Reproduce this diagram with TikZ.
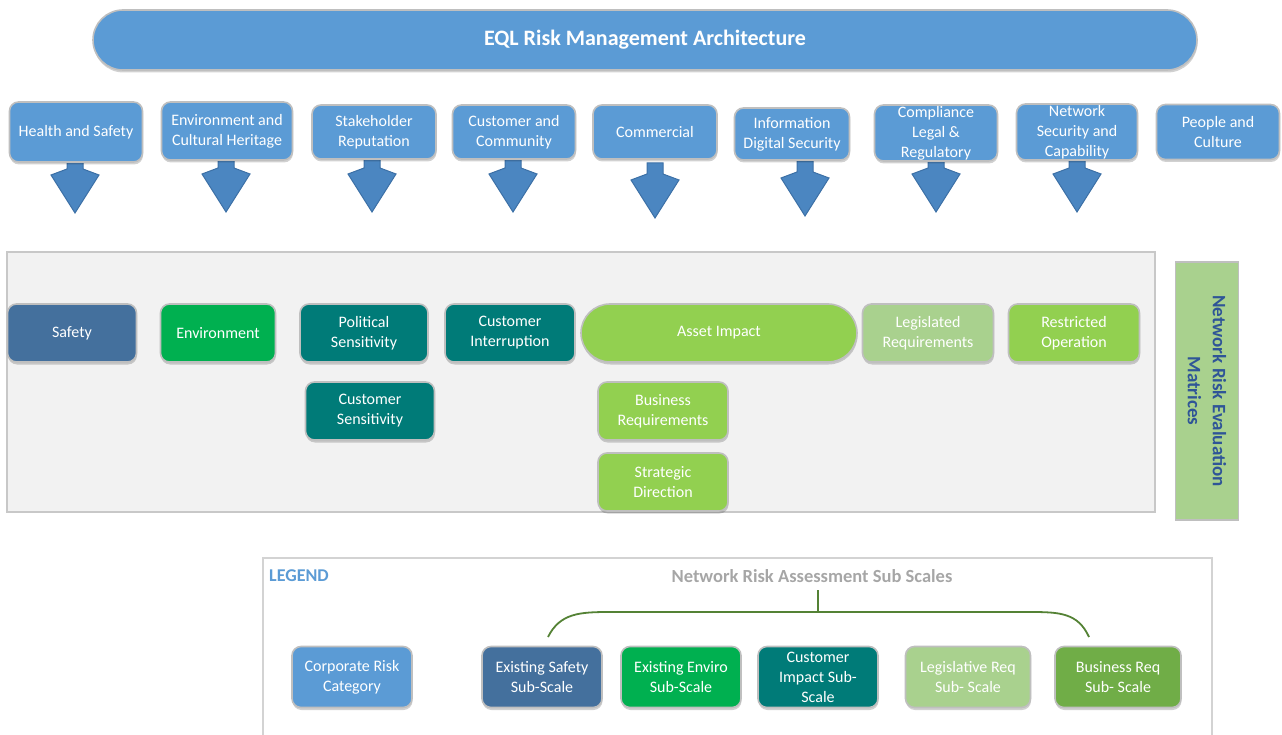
\documentclass[tikz,border=0pt]{standalone}
\usepackage{fontspec}
\setmainfont{Carlito}
\usetikzlibrary{shadows}
\definecolor{topblue}{HTML}{5B9BD5}
\definecolor{arrblue}{HTML}{4B86C1}
\definecolor{arredge}{HTML}{3C70A6}
\definecolor{boxedge}{HTML}{BFBFBF}
\definecolor{safetyblue}{HTML}{44709D}
\definecolor{envgreen}{HTML}{00B050}
\definecolor{teal}{HTML}{007B78}
\definecolor{lgreen}{HTML}{92D050}
\definecolor{pgreen}{HTML}{A9D18E}
\definecolor{dgreen}{HTML}{70AD47}
\definecolor{bracketgreen}{HTML}{548235}
\definecolor{panelgray}{HTML}{F2F2F2}
\definecolor{paneledge}{HTML}{C8C8C8}
\definecolor{navytext}{HTML}{2F5597}
\definecolor{legendgray}{HTML}{A6A6A6}
\tikzset{
  box/.style={draw=boxedge, line width=1.6pt, rounded corners=9pt, text=white,
    align=center, font=\fontsize{16}{20}\selectfont, inner sep=0pt,
    drop shadow={shadow xshift=0.5pt, shadow yshift=-2.5pt, opacity=0.18, fill=black}},
  topbox/.style={box, fill=topblue, minimum width=125pt, minimum height=56pt},
  midbox/.style={box, minimum width=129pt, minimum height=58pt},
  legbox/.style={box, minimum width=120pt, minimum height=61pt},
  darrow/.pic={\draw[fill=arrblue, draw=arredge, line width=1pt, line join=miter]
     (-8,0) -- (-8,11) -- (-24,17) -- (0,55) -- (24,17) -- (8,11) -- (8,0) -- cycle;}
}
\begin{document}
\begin{tikzpicture}[x=1pt,y=-1pt]
\useasboundingbox (0,0) rectangle (1282,735);
% title
\node[box, fill=topblue, minimum width=1104pt, minimum height=60pt, rounded corners=30pt,
  font=\fontsize{22}{26}\selectfont\bfseries] (title) at (645,40) {EQL Risk Management Architecture};
% arrows (behind boxes)
\pic at (75,158) {darrow};
\pic at (226,157) {darrow};
\pic at (372,157) {darrow};
\pic at (513,157) {darrow};
\pic at (655,163) {darrow};
\pic at (805,161) {darrow};
\pic at (936,157) {darrow};
\pic at (1077,157) {darrow};
% top boxes
\node[topbox, minimum width=133pt, minimum height=60pt] (hs) at (76,132) {Health and Safety};
\node[topbox, minimum width=131pt, minimum height=58pt] (ec) at (227,131) {Environment and\\Cultural Heritage};
\node[topbox, minimum width=124pt, minimum height=54pt] (sr) at (374,132) {Stakeholder\\Reputation};
\node[topbox, minimum width=123pt, minimum height=54pt] (cc) at (514,132) {Customer and\\Community};
\node[topbox, minimum width=124pt, minimum height=54pt] (co) at (655,132) {Commercial};
\node[topbox, minimum width=115pt, minimum height=52pt] (id) at (792,134) {Information\\Digital Security};
\node[topbox, minimum width=123pt, minimum height=56pt] (cl) at (936,133) {Compliance\\Legal \&\\Regulatory};
\node[topbox, minimum width=121pt, minimum height=56pt] (ns) at (1077,132) {Network\\Security and\\Capability};
\node[topbox, minimum width=123pt, minimum height=55pt] (pc) at (1218,132) {People and\\Culture};
% panel
\node[draw=paneledge, fill=panelgray, line width=1.8pt, minimum width=1148pt, minimum height=260pt, inner sep=0pt] (panel) at (581,382) {};
% middle boxes
\node[midbox, fill=safetyblue] (saf) at (72,333) {Safety};
\node[midbox, fill=envgreen, minimum width=115pt] (env) at (218,333) {Environment};
\node[midbox, fill=teal, minimum width=128pt] (pol) at (364,333) {Political\\Sensitivity};
\node[midbox, fill=teal, minimum width=130pt] (ci) at (510,333) {Customer\\Interruption};
\node[midbox, fill=lgreen, minimum width=276pt, rounded corners=29pt] (ai) at (719,333) {Asset Impact};
\node[midbox, fill=pgreen, minimum width=131pt] (lr) at (928,333) {Legislated\\Requirements};
\node[midbox, fill=lgreen, minimum width=131pt] (ro) at (1074,333) {Restricted\\Operation};
\node[midbox, fill=teal] (cs) at (370,411) {Customer\\Sensitivity};
\node[midbox, fill=lgreen, minimum width=130pt] (br) at (663,411) {Business\\Requirements};
\node[midbox, fill=lgreen, minimum width=130pt] (sd) at (663,482) {Strategic\\Direction};
% side label
\node[draw=boxedge, fill=pgreen, line width=1.6pt, rotate=-90, minimum width=258pt, minimum height=63pt,
  align=center, text=navytext, font=\fontsize{19}{25}\selectfont\bfseries] (nrem) at (1207,391)
  {Network Risk Evaluation\\Matrices};
% legend
\draw[draw=paneledge!80, line width=1.6pt] (263,740) -- (263,558) -- (1212,558) -- (1212,740);
\node[anchor=west, text=topblue, font=\fontsize{18}{20}\selectfont\bfseries, inner sep=0pt] (leg) at (269,576) {LEGEND};
\node[text=legendgray, font=\fontsize{18.5}{20}\selectfont\bfseries, inner sep=1pt] (nras) at (812,576) {Network Risk Assessment Sub Scales};
\node[legbox, fill=topblue] (crc) at (352,677) {Corporate Risk\\Category};
\node[legbox, fill=safetyblue] (ess) at (542,677) {Existing Safety\\Sub-Scale};
\node[legbox, fill=envgreen] (ees) at (681,677) {Existing Enviro\\Sub-Scale};
\node[legbox, fill=teal] (cis) at (818,677) {Customer\\Impact Sub-\\Scale};
\node[legbox, fill=pgreen, minimum width=125pt] (lrs) at (968,677) {Legislative Req\\Sub- Scale};
\node[legbox, fill=dgreen, minimum width=126pt] (brs) at (1118,677) {Business Req\\Sub- Scale};
% bracket
\coordinate (bl) at (548,637);
\coordinate (brr) at (1089,637);
\coordinate (bm) at (818,612);
\draw[bracketgreen, line width=1.8pt] (bl) .. controls (560,613) and (580,612) .. (610,612) -- (1030,612)
   .. controls (1060,612) and (1078,613) .. (brr);
\draw[bracketgreen, line width=1.8pt] (818,590) -- (bm);
\end{tikzpicture}
\end{document}
